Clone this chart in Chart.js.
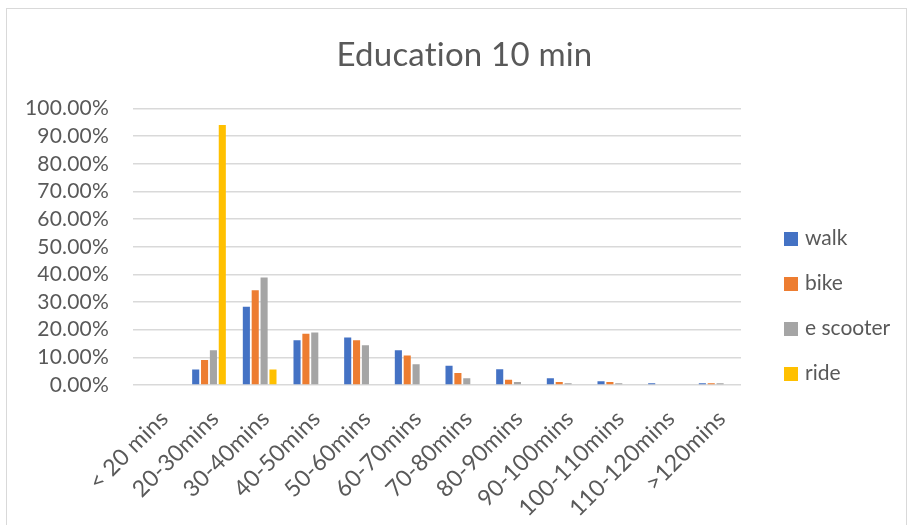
<!DOCTYPE html>
<html>
<head>
<meta charset="utf-8">
<script src="https://cdn.jsdelivr.net/npm/chart.js@4"></script>
<style>
  body { margin: 0; background: #fff; font-family: Lato, sans-serif; }
  #frame { position: absolute; left: 6px; top: 8px; width: 899px; height: 530px; border: 1px solid #d9d9d9; }
  #wrap { position: absolute; left: 0; top: 0; width: 911px; height: 525px; }
  #legend { position: absolute; left: 784px; top: 0; color: #595959; font-size: 21px; }
  .item { position: absolute; left: 0; white-space: nowrap; height: 24px; line-height: 24px; }
  .item span.sw { display: inline-block; width: 14px; height: 14px; vertical-align: middle; margin-right: 7px; position: relative; top: -1px; }
</style>
</head>
<body>
<div id="frame"></div>
<div id="wrap"><canvas id="chart" width="911" height="525"></canvas></div>
<div id="legend"></div>
<script>
// data (percent)
const categories = ['< 20 mins', '20-30mins', '30-40mins', '40-50mins', '50-60mins', '60-70mins',
                    '70-80mins', '80-90mins', '90-100mins', '100-110mins', '110-120mins', '>120mins'];
const walk     = [0, 5.6, 28.3, 16.2, 17.2, 12.6, 7.0, 5.7, 2.4, 1.4, 0.6, 0.6];
const bike     = [0, 9.0, 34.3, 18.5, 16.2, 10.7, 4.3, 1.9, 1.1, 1.1, 0, 0.6];
const eScooter = [0, 12.6, 38.9, 19.0, 14.4, 7.5, 2.4, 1.1, 0.6, 0.6, 0, 0.6];
const ride     = [0, 94.1, 5.6, 0, 0, 0, 0, 0, 0, 0, 0, 0];
const seriesNames = ['walk', 'bike', 'e scooter', 'ride'];
const seriesColors = ['#4472C4', '#ED7D31', '#A5A5A5', '#FFC000'];
const yTicks = [0, 10, 20, 30, 40, 50, 60, 70, 80, 90, 100];

const textColor = '#595959';
const fontFam = 'Lato, "Open Sans", sans-serif';

const ctx = document.getElementById('chart').getContext('2d');
const allSeries = [walk, bike, eScooter, ride];

// small spacing so Lato does not join "ti"
const noLigatures = {
    id: 'noLigatures',
    beforeDraw: (chart) => { chart.ctx.letterSpacing = '0.2px'; }
};

new Chart(ctx, {
    type: 'bar',
    data: {
        labels: categories,
        datasets: allSeries.map((d, i) => ({
            label: seriesNames[i],
            data: d,
            backgroundColor: seriesColors[i],
            borderWidth: 0,
            categoryPercentage: 0.70,
            barPercentage: 0.80
        }))
    },
    plugins: [noLigatures],
    options: {
        responsive: false,
        animation: false,
        layout: { padding: { left: 18, right: 0, top: 0, bottom: 0 } },
        plugins: {
            legend: { display: false },
            tooltip: { enabled: false },
            title: {
                display: true,
                text: 'Education 10 min',
                color: textColor,
                font: { family: fontFam, size: 33, weight: 'normal' },
                padding: { top: 36, bottom: 33 }
            }
        },
        scales: {
            x: {
                grid: { display: false },
                border: { display: false },
                ticks: {
                    color: textColor,
                    font: { family: fontFam, size: 23 },
                    minRotation: 45,
                    maxRotation: 45,
                    padding: 12,
                    labelOffset: 6,
                    autoSkip: false
                },
                afterFit: (scale) => { scale.height = 140; }
            },
            y: {
                min: 0,
                max: 100,
                afterBuildTicks: (scale) => { scale.ticks = yTicks.map(v => ({ value: v })); },
                grid: { color: '#d9d9d9', lineWidth: 1.5, drawTicks: false },
                border: { display: false },
                ticks: {
                    color: textColor,
                    font: { family: fontFam, size: 21 },
                    padding: 24,
                    autoSkip: false,
                    callback: (v) => v.toFixed(2) + '%'
                },
                afterFit: (scale) => { scale.width = 115; }
            },
            // empty space on the right where the legend sits
            legendSpace: {
                type: 'linear',
                position: 'right',
                display: true,
                grid: { display: false },
                border: { display: false },
                ticks: { display: false },
                afterFit: (scale) => { scale.width = 170; }
            }
        }
    }
});

// legend as html text
const legendEl = document.getElementById('legend');
const legendY = [237, 282, 327, 372];
seriesNames.forEach((name, i) => {
    const it = document.createElement('div');
    it.className = 'item';
    it.style.top = (legendY[i] - 12) + 'px';
    it.innerHTML = '<span class="sw" style="background:' + seriesColors[i] + '"></span>' + name;
    legendEl.appendChild(it);
});
</script>
</body>
</html>
